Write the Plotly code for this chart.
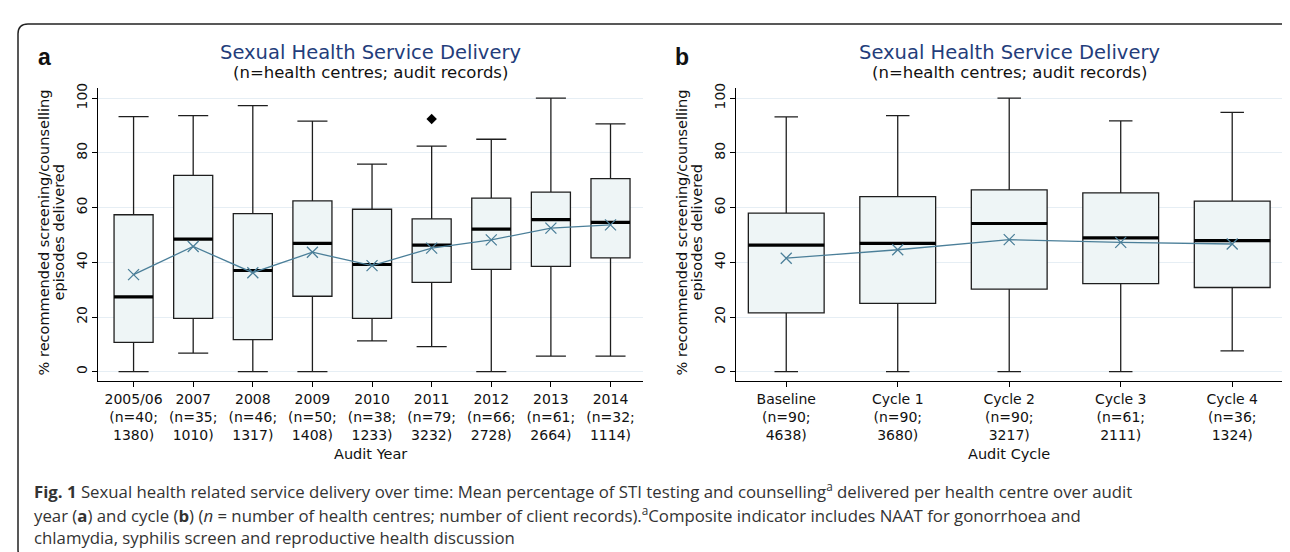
import plotly.graph_objects as go

# ---------------- data ----------------
years = ["2005/06", "2007", "2008", "2009", "2010", "2011", "2012", "2013", "2014"]
year_centres = [40, 35, 46, 50, 38, 79, 66, 61, 32]
year_records = [1380, 1010, 1317, 1408, 1233, 3232, 2728, 2664, 1114]
year_low = [0, 6.8, 0, 0, 11.3, 9.2, 0, 5.7, 5.7]
year_q1 = [10.7, 19.5, 11.7, 27.6, 19.5, 32.7, 37.4, 38.5, 41.6]
year_median = [27.4, 48.5, 37.0, 46.9, 39.2, 46.3, 52.1, 55.6, 54.6]
year_q3 = [57.4, 71.8, 57.8, 62.5, 59.4, 55.9, 63.5, 65.7, 70.6]
year_high = [93.3, 93.6, 97.3, 91.6, 75.9, 82.5, 85.0, 100, 90.6]
year_mean = [35.5, 45.8, 36.2, 43.7, 38.8, 45.2, 48.2, 52.5, 53.7]
year_outlier_cat = ["2011"]
year_outlier_val = [92.4]

cycles = ["Baseline", "Cycle 1", "Cycle 2", "Cycle 3", "Cycle 4"]
cycle_centres = [90, 90, 90, 61, 36]
cycle_records = [4638, 3680, 3217, 2111, 1324]
cycle_low = [0, 0, 0, 0, 7.6]
cycle_q1 = [21.5, 25.0, 30.2, 32.2, 30.8]
cycle_median = [46.3, 46.9, 54.2, 48.9, 47.9]
cycle_q3 = [58.0, 64.0, 66.5, 65.4, 62.4]
cycle_high = [93.2, 93.6, 100, 91.7, 94.8]
cycle_mean = [41.5, 44.6, 48.3, 47.3, 46.7]
cycle_outlier_cat = []
cycle_outlier_val = []

y_ticks = [0, 20, 40, 60, 80, 100]

# ---------------- styling / layout helpers ----------------
W, H = 1290, 552
def px(x):
    return x / W
def py(y):
    return 1 - y / H

FONT = "DejaVu Sans"
BOX_FILL = "#eef5f6"
BOX_LINE = "#1e1e1e"
MEAN_COL = "#4b7f99"
GRID_COL = "#e6eef4"
TITLE_COL = "#233d7b"

plot_top, plot_bot = 76, 371
ydom = [py(plot_bot), py(plot_top)]
y_range = [-3.26, 103.62]

# line-ew marker length = 1.4 * size  -> size = box pixel width / 1.4
panels = [
    dict(cats=years, cen=year_centres, rec=year_records, low=year_low, q1=year_q1,
         med=year_median, q3=year_q3, high=year_high, mean=year_mean,
         out_cat=year_outlier_cat, out_val=year_outlier_val,
         x0=90.4, x1=635.0, xr=[-0.59, 8.545], bw=0.655, ww=0.77, medpx=39 / 1.4,
         label="a", xtitle="Audit Year", xa="x", ya="y"),
    dict(cats=cycles, cen=cycle_centres, rec=cycle_records, low=cycle_low, q1=cycle_q1,
         med=cycle_median, q3=cycle_q3, high=cycle_high, mean=cycle_mean,
         out_cat=cycle_outlier_cat, out_val=cycle_outlier_val,
         x0=728.4, x1=1273.6, xr=[-0.447, 4.443], bw=0.68, ww=0.31, medpx=76 / 1.4,
         label="b", xtitle="Audit Cycle", xa="x2", ya="y2"),
]

fig = go.Figure()
annotations = []

for i, p in enumerate(panels):
    fig.add_trace(go.Box(
        x=p["cats"], q1=p["q1"], median=p["med"], q3=p["q3"],
        lowerfence=p["low"], upperfence=p["high"],
        fillcolor=BOX_FILL, line=dict(color=BOX_LINE, width=1.3),
        width=p["bw"], whiskerwidth=p["ww"], boxpoints=False,
        showlegend=False, xaxis=p["xa"], yaxis=p["ya"], hoverinfo="skip"))
    # thick median bars
    fig.add_trace(go.Scatter(
        x=p["cats"], y=p["med"], mode="markers",
        marker=dict(symbol="line-ew", size=p["medpx"], color="black",
                    line=dict(color="black", width=3.2)),
        showlegend=False, xaxis=p["xa"], yaxis=p["ya"], hoverinfo="skip"))
    # outside values
    if p["out_cat"]:
        fig.add_trace(go.Scatter(
            x=p["out_cat"], y=p["out_val"], mode="markers",
            marker=dict(symbol="diamond", size=8, color="black"),
            showlegend=False, xaxis=p["xa"], yaxis=p["ya"], hoverinfo="skip"))
    # mean line
    fig.add_trace(go.Scatter(
        x=p["cats"], y=p["mean"], mode="lines+markers",
        line=dict(color=MEAN_COL, width=1.3),
        marker=dict(symbol="x-thin", size=11, color=MEAN_COL,
                    line=dict(color=MEAN_COL, width=1.3)),
        showlegend=False, xaxis=p["xa"], yaxis=p["ya"], hoverinfo="skip"))

    cx = (p["x0"] + p["x1"]) / 2
    annotations += [
        dict(text="Sexual Health Service Delivery", x=px(cx), y=py(39.5),
             xref="paper", yref="paper", showarrow=False, xanchor="center", yanchor="middle",
             font=dict(family=FONT, size=19.5, color=TITLE_COL)),
        dict(text="(n=health centres; audit records)", x=px(cx), y=py(60.5),
             xref="paper", yref="paper", showarrow=False, xanchor="center", yanchor="middle",
             font=dict(family=FONT, size=16.5, color="#111")),
        dict(text="<b>%s</b>" % p["label"], x=px(p["x0"] - 54), y=py(44),
             xref="paper", yref="paper", showarrow=False, xanchor="center", yanchor="middle",
             font=dict(family="Liberation Sans, Arial", size=23, color="#111")),
        dict(text="% recommended screening/counselling", x=px(p["x0"] - 54), y=py(221),
             xref="paper", yref="paper", showarrow=False, xanchor="center", yanchor="middle",
             textangle=-90, font=dict(family=FONT, size=14.5, color="#111")),
        dict(text="episodes delivered", x=px(p["x0"] - 39), y=py(221),
             xref="paper", yref="paper", showarrow=False, xanchor="center", yanchor="middle",
             textangle=-90, font=dict(family=FONT, size=14.5, color="#111")),
        dict(text=p["xtitle"], x=px(cx), y=py(445),
             xref="paper", yref="paper", showarrow=False, xanchor="center", yanchor="middle",
             font=dict(family=FONT, size=14.5, color="#111")),
    ]

    ticktext = ["%s<br>(n=%d;<br>%d)" % (c, n, r) for c, n, r in zip(p["cats"], p["cen"], p["rec"])]
    xk = "xaxis" if i == 0 else "xaxis2"
    yk = "yaxis" if i == 0 else "yaxis2"
    fig.update_layout(**{
        xk: dict(domain=[px(p["x0"]), px(p["x1"])], anchor=p["ya"], type="category",
                 range=p["xr"], categoryorder="array", categoryarray=p["cats"],
                 tickvals=p["cats"], ticktext=ticktext,
                 showline=True, linecolor="black", linewidth=1.3, mirror=False,
                 ticks="outside", ticklen=5, tickcolor="black", tickwidth=1.2,
                 showgrid=False, zeroline=False,
                 tickfont=dict(family=FONT, size=14, color="#111")),
        yk: dict(domain=ydom, anchor=p["xa"], range=y_range, tickvals=y_ticks,
                 showline=True, linecolor="black", linewidth=1.3,
                 ticks="outside", ticklen=5, tickcolor="black", tickwidth=1.2,
                 tickangle=-90, showgrid=True, gridcolor=GRID_COL, gridwidth=1,
                 zeroline=False,
                 tickfont=dict(family=FONT, size=14, color="#111")),
    })

# caption
cap_font = dict(family="Open Sans", size=16.8, color="#333")
caption_lines = [
    "<b>Fig. 1</b> Sexual health related service delivery over time: Mean percentage of STI testing and counselling<sup>a</sup> delivered per health centre over audit",
    "year (<b>a</b>) and cycle (<b>b</b>) (<i>n</i> = number of health centres; number of client records).<sup>a</sup>Composite indicator includes NAAT for gonorrhoea and",
    "chlamydia, syphilis screen and reproductive health discussion",
]
for t, yc in zip(caption_lines, [481.5, 506, 529.5]):
    annotations.append(dict(text=t, x=px(24), y=py(yc), xref="paper", yref="paper",
                            showarrow=False, xanchor="left", yanchor="middle", font=cap_font))

# rounded border
L, T, R, B, r = 10, 11, 1289.5, 552.5, 10
path = ("M {a},{b} Q {c},{d} {e},{f} L {g},{h} Q {i},{j} {k},{l} L {m},{n} "
        "Q {o},{p_} {q},{s} L {t},{u} Q {v},{w} {x_},{y_} Z").format(
    a=px(R), b=py(T + r), c=px(R), d=py(T), e=px(R - r), f=py(T),
    g=px(L + r), h=py(T), i=px(L), j=py(T), k=px(L), l=py(T + r),
    m=px(L), n=py(B - r), o=px(L), p_=py(B), q=px(L + r), s=py(B),
    t=px(R - r), u=py(B), v=px(R), w=py(B), x_=px(R), y_=py(B - r))

fig.update_layout(
    width=W, height=H, margin=dict(l=0, r=0, t=0, b=0),
    paper_bgcolor="white", plot_bgcolor="white",
    annotations=annotations,
    shapes=[dict(type="path", path=path, xref="paper", yref="paper",
                 line=dict(color="#222", width=1.5), fillcolor="rgba(0,0,0,0)")],
    showlegend=False,
)

fig.write_html("out.html")
